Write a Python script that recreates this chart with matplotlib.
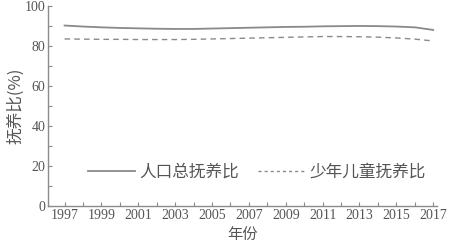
import matplotlib.pyplot as plt
from matplotlib.lines import Line2D
import numpy as np

plt.rcParams['font.family'] = ['Liberation Serif', 'Noto Sans CJK SC']

years = np.arange(1997, 2018)
total_ratio = [90.2, 89.7, 89.3, 89.0, 88.8, 88.6, 88.5, 88.5, 88.7, 88.9, 89.1,
               89.3, 89.5, 89.6, 89.8, 89.9, 90.0, 89.9, 89.7, 89.3, 88.0]
child_ratio = [83.5, 83.4, 83.3, 83.3, 83.2, 83.2, 83.2, 83.3, 83.5, 83.7, 83.9,
               84.1, 84.3, 84.5, 84.7, 84.7, 84.6, 84.4, 84.0, 83.4, 82.5]
year_labels = [str(y) for y in range(1997, 2018, 2)]
series_names = ['人口总抚养比', '少年儿童抚养比']

gray = '#8a8a8a'
txt = '#555555'
cjk = ['Noto Sans CJK SC', 'DejaVu Sans']

fig = plt.figure(figsize=(4.57, 2.47), dpi=100)
ax = fig.add_axes([0.105, 0.166, 0.851, 0.81])

ax.plot(years, total_ratio, color=gray, lw=1.3)
ax.plot(years, child_ratio, color=gray, lw=1.0, ls=(0, (4, 3)))

ax.set_xlim(1996.1, 2017.2)
ax.set_ylim(0, 100)
ax.set_xticks(range(1997, 2018, 2))
ax.set_xticklabels(year_labels)
ax.set_xticks(range(1998, 2018, 2), minor=True)
ax.set_yticks(range(0, 101, 20))
ax.set_yticks(range(10, 100, 20), minor=True)

for s in ['top', 'right']:
    ax.spines[s].set_visible(False)
for s in ['left', 'bottom']:
    ax.spines[s].set_color(gray)
    ax.spines[s].set_linewidth(1.0)

ax.tick_params(which='both', direction='in', length=3, color=gray, width=0.8,
               labelsize=10, labelcolor=txt, pad=2)

ax.set_xlabel('年份', family=cjk, fontsize=11, color=txt, labelpad=3)
ax.set_ylabel('抚养比(%)', family=cjk, fontsize=12, color=txt, labelpad=0)

# legend handles drawn separately so the dashed sample is finer
handles = [Line2D([], [], color=gray, lw=1.3),
           Line2D([], [], color=gray, lw=1.0, ls=(0, (2.2, 2.2)))]
leg = ax.legend(handles, series_names, loc='center', bbox_to_anchor=(0.537, 0.17),
                ncol=2, frameon=False, prop={'family': cjk, 'size': 12},
                handlelength=2.8, columnspacing=1.1, handletextpad=0.3)
for t in leg.get_texts():
    t.set_color(txt)

plt.savefig('out.png', dpi=100)
